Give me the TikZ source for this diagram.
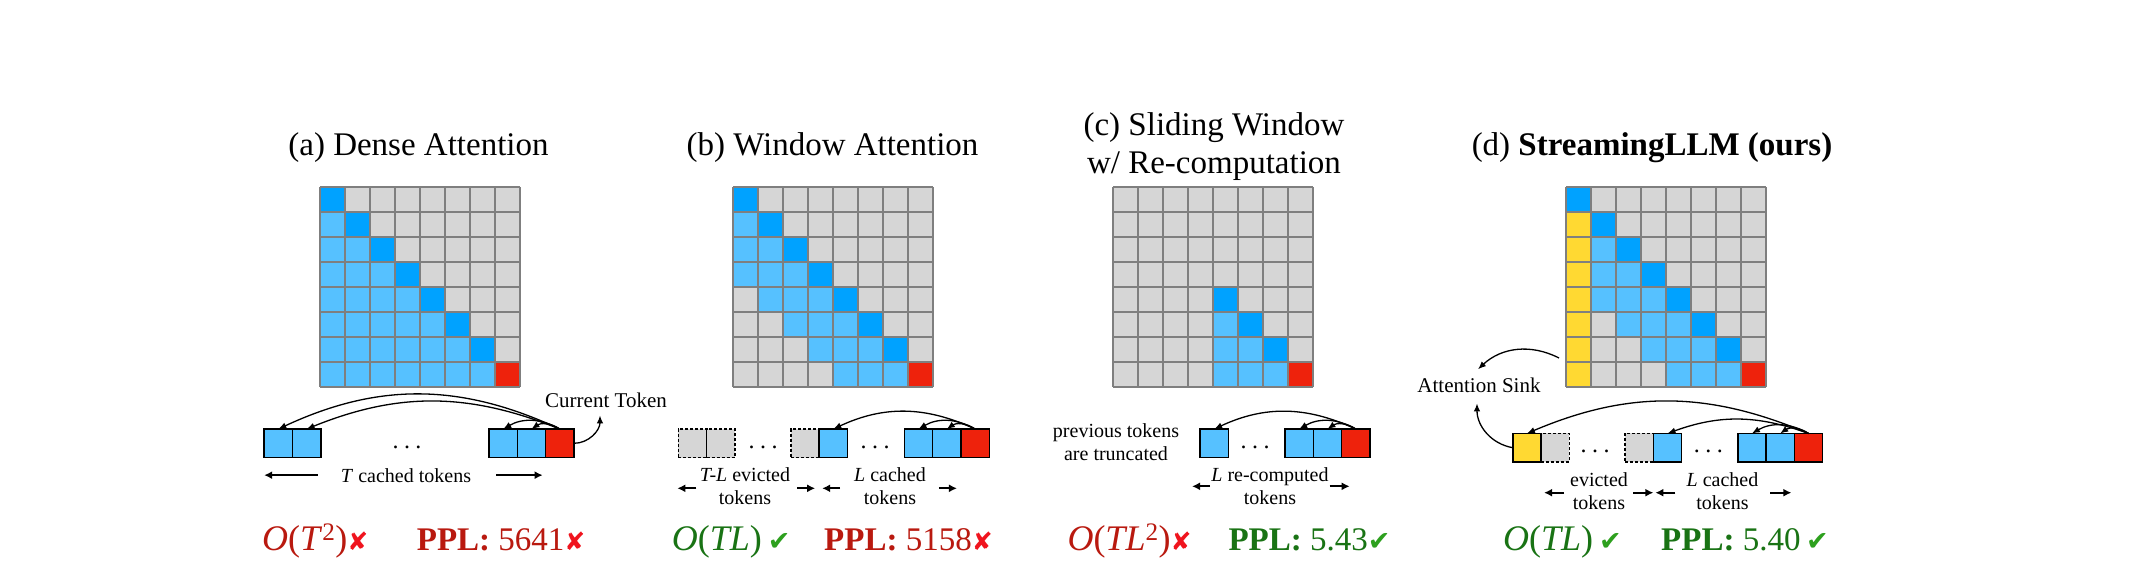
\documentclass[tikz,border=0pt]{standalone}
\usepackage{fontspec}
\setmainfont{Liberation Serif}
\newfontfamily\symfont{DejaVu Sans}
\usepackage{tikz}
\usetikzlibrary{arrows.meta, positioning, calc}

\definecolor{celldark}{HTML}{00A2FF}
\definecolor{celllight}{HTML}{56C1FF}
\definecolor{cellgray}{HTML}{D6D6D6}
\definecolor{cellred}{HTML}{EE220C}
\definecolor{cellsink}{HTML}{FFD932}
\definecolor{linegray}{HTML}{7F7F7F}
\definecolor{badtext}{RGB}{185,25,15}
\definecolor{badmark}{RGB}{240,20,30}
\definecolor{goodtext}{RGB}{25,115,20}
\definecolor{goodmark}{RGB}{45,160,30}

% x, y, first column, window, sink column
\newcommand{\attgrid}[5]{%
  \begin{scope}[shift={(#1,#2)}]
    \foreach \row in {0,...,7}{
      \foreach \col in {0,...,7}{
        \def\cc{cellgray}%
        \ifnum\col<#3\relax\else
          \ifnum\col=\row\relax\def\cc{celldark}\fi
          \ifnum\col<\row\relax
            \ifnum\numexpr\row-\col\relax>#4\relax\else\def\cc{celllight}\fi
          \fi
        \fi
        \ifnum\row=7 \ifnum\col=7 \def\cc{cellred}\fi\fi
        \ifnum#5=1 \ifnum\col=0 \ifnum\row>0 \def\cc{cellsink}\fi\fi\fi
        \fill[fill=\cc] (\col*25,\row*25) rectangle ++(25,25);
      }
    }
    \foreach \i in {0,...,8}{
      \draw[gridline] (\i*25,0) -- (\i*25,200);
      \draw[gridline] (0,\i*25) -- (200,\i*25);
    }
  \end{scope}}

\tikzset{
  gridline/.style={draw=linegray, line width=1.6pt},
  title/.style={font=\fontsize{33}{38}\selectfont, anchor=base, inner sep=0pt, align=center},
  note/.style={font=\fontsize{21}{21}\selectfont, inner sep=0pt, anchor=base},
  toklabel/.style={font=\fontsize{20}{22.5}\selectfont, inner sep=0pt, anchor=base, align=center},
  score/.style={font=\fontsize{33}{33}\selectfont, anchor=base west, inner sep=0pt},
  dots/.style={font=\fontsize{24}{24}\selectfont, inner sep=0pt},
  tok/.style={draw=black, line width=1.5pt, fill=celllight, minimum width=28.3pt,
    minimum height=28.5pt, inner sep=0pt, outer sep=0pt},
  gone/.style={tok, fill=cellgray, dash pattern=on 3pt off 2pt},
  now/.style={tok, fill=cellred},
  sinktok/.style={tok, fill=cellsink},
  tokline/.style={draw=black, line width=1.5pt},
  att/.style={-{Latex[length=8pt,width=6.5pt]}, line width=1.3pt},
  span/.style={-{Latex[length=8pt,width=8pt]}, line width=2pt}
}
\newcommand{\bigo}{\fontsize{36}{36}\selectfont}
\newcommand{\nomark}{{\symfont\fontsize{25}{25}\selectfont\color{badmark}✘}}
\newcommand{\okmark}{{\symfont\fontsize{27}{27}\selectfont\color{goodmark}✔}}
\newcommand{\dotrow}{.\hspace{5.5pt}.\hspace{5.5pt}.}

\begin{document}
\begin{tikzpicture}[x=1pt, y=-1pt]
\fill[white] (0,0) rectangle (2131,571);
\useasboundingbox (0,0) rectangle (2131,571);

\node[title] (ta) at (418.5,155) {(a) Dense Attention};
\node[title] (tb) at (832.5,155) {(b) Window Attention};
\node[title] (tc) at (1214,173.3) {(c) Sliding Window\\w/ Re-computation};
\node[title] (td) at (1652,155) {(d) \textbf{StreamingLLM (ours)}};

\attgrid{320}{187}{0}{7}{0}
\attgrid{733}{187}{0}{3}{0}
\attgrid{1113}{187}{4}{3}{0}
\attgrid{1566}{187}{0}{3}{1}

% (a) dense
\node[tok] (a1) at (278.3,443.3) {};
\node[tok, right=0pt of a1] (a2) {};
\node[dots] (da) at (407,447) {\dotrow};
\node[tok] (a3) at (503.2,443.3) {};
\node[tok, right=0pt of a3] (a4) {};
\node[now, right=0pt of a4] (ra) {};
\draw[att] (ra.north) to[bend right=25] (a1.north);
\draw[att] (ra.north) to[bend right=22] (a2.north);
\draw[att] (ra.north) to[bend right=30] (a3.north);
\draw[att] (ra.north) to[bend right=35] (a4.north);
\node[note] (cur) at (606,407) {Current Token};
\draw[att] (ra.east) to[out=0, in=-90] ([xshift=-6pt, yshift=-8pt]cur.south);
\node[toklabel] (la) at (406,482) {\textit{T} cached tokens};
\draw[span] ($(la.west)+(-23,0)$) -- (a1.west |- la.west);
\draw[span] ($(la.east)+(25,0)$) -- ($(ra.west |- la.east)+(-3,0)$);

% (b) window
\node[gone] (b1) at (692.5,443.3) {};
\node[gone, right=0pt of b1] (b2) {};
\draw[tokline] (b1.north east) -- (b1.south east);
\node[dots] (db1) at (763,447) {\dotrow};
\node[gone] (b3) at (805,443.3) {};
\node[tok, right=0pt of b3] (b4) {};
\node[dots] (db2) at (875,447) {\dotrow};
\node[tok] (b5) at (918.5,443.3) {};
\node[tok, right=0pt of b5] (b6) {};
\node[now, right=0pt of b6] (rb) {};
\draw[att] (rb.north) to[bend right=25] (b4.north);
\draw[att] (rb.north) to[bend right=30] (b5.north);
\draw[att] (rb.north) to[bend right=35] (b6.north);
\node[toklabel] (lb1) at (745,504) {\textit{T-L} evicted\\tokens};
\node[toklabel] (lb2) at (890,504) {\textit{L} cached\\tokens};
\draw[span] ($(b1.west)+(18,45)$) -- ($(b1.west)+(-1,45)$);
\draw[span] ($(b4.west)+(-22,45)$) -- ($(b4.west)+(-4,45)$);
\draw[span] ($(b4.west)+(21,45)$) -- ($(b4.west)+(3,45)$);
\draw[span] ($(rb.west)+(-22,45)$) -- ($(rb.west)+(-4,45)$);

% (c) re-computation
\node[toklabel] (trunc) at (1116,460) {previous tokens\\are truncated};
\node[tok] (c1) at (1214.2,443.3) {};
\node[dots] (dc) at (1255,447) {\dotrow};
\node[tok] (c2) at (1299.2,443.3) {};
\node[tok, right=0pt of c2] (c3) {};
\node[now, right=0pt of c3] (rc) {};
\draw[att] (rc.north) to[bend right=25] (c1.north);
\draw[att] (rc.north) to[bend right=30] (c2.north);
\draw[att] (rc.north) to[bend right=35] (c3.north);
\node[toklabel] (lc) at (1270,504) {\textit{L} re-computed\\tokens};
\draw[span] ($(c1.west)+(10,43)$) -- ($(c1.west)+(-8,43)$);
\draw[span] ($(rc.west)+(-12,43)$) -- ($(rc.west)+(8,43)$);

% (d) streaming
\node[sinktok] (d1) at (1526.9,447.7) {};
\node[gone, right=0pt of d1] (d2) {};
\draw[tokline] (d1.north east) -- (d1.south east);
\node[dots] (dd1) at (1595,451) {\dotrow};
\node[gone] (d3) at (1639.2,447.7) {};
\node[tok, right=0pt of d3] (d4) {};
\node[dots] (dd2) at (1708.3,451) {\dotrow};
\node[tok] (d5) at (1751.9,447.7) {};
\node[tok, right=0pt of d5] (d6) {};
\node[now, right=0pt of d6] (rd) {};
\draw[att] (rd.north) to[bend right=23] (d1.north);
\draw[att] (rd.north) to[bend right=20] (d4.north);
\draw[att] (rd.north) to[bend right=30] (d5.north);
\draw[att] (rd.north) to[bend right=35] (d6.north);
\node[note] (snk) at (1479,392) {Attention Sink};
\coordinate (gridd) at (1559,358);
\draw[att] (gridd) to[bend right=35] ([xshift=-1pt, yshift=8pt]snk.north);
\draw[att] (d1.west) to[out=170, in=-90] ([xshift=-2pt, yshift=-11pt]snk.south);
\node[toklabel] (ld1) at (1599,509) {evicted\\tokens};
\node[toklabel] (ld2) at (1722.5,509) {\textit{L} cached\\tokens};
\draw[span] ($(d1.east)+(23,45)$) -- ($(d1.east)+(3,45)$);
\draw[span] ($(d4.west)+(-20,45)$) -- ($(d4.west)+(0,45)$);
\draw[span] ($(d4.west)+(22,45)$) -- ($(d4.west)+(2,45)$);
\draw[span] ($(rd.west)+(-24,45)$) -- ($(rd.west)+(-3,45)$);

% costs
\node[score, text=badtext] (oa) at (262,550) {\bigo\textit{O}(\textit{T}\textsuperscript{2})\nomark};
\node[score, text=badtext] (pa) at (416.7,550) {\textbf{PPL:} 5641\nomark};
\node[score, text=goodtext] (ob) at (671.7,550) {\bigo\textit{O}(\textit{TL})\,\okmark};
\node[score, text=badtext] (pb) at (824,550) {\textbf{PPL:} 5158\nomark};
\node[score, text=badtext] (oc) at (1067.3,550) {\bigo\textit{O}(\textit{TL}\textsuperscript{2})\nomark};
\node[score, text=goodtext] (pc) at (1228.3,550) {\textbf{PPL:} 5.43\okmark};
\node[score, text=goodtext] (od) at (1503,550) {\bigo\textit{O}(\textit{TL})\,\okmark};
\node[score, text=goodtext] (pd) at (1661,550) {\textbf{PPL:} 5.40\,\okmark};
\end{tikzpicture}
\end{document}
